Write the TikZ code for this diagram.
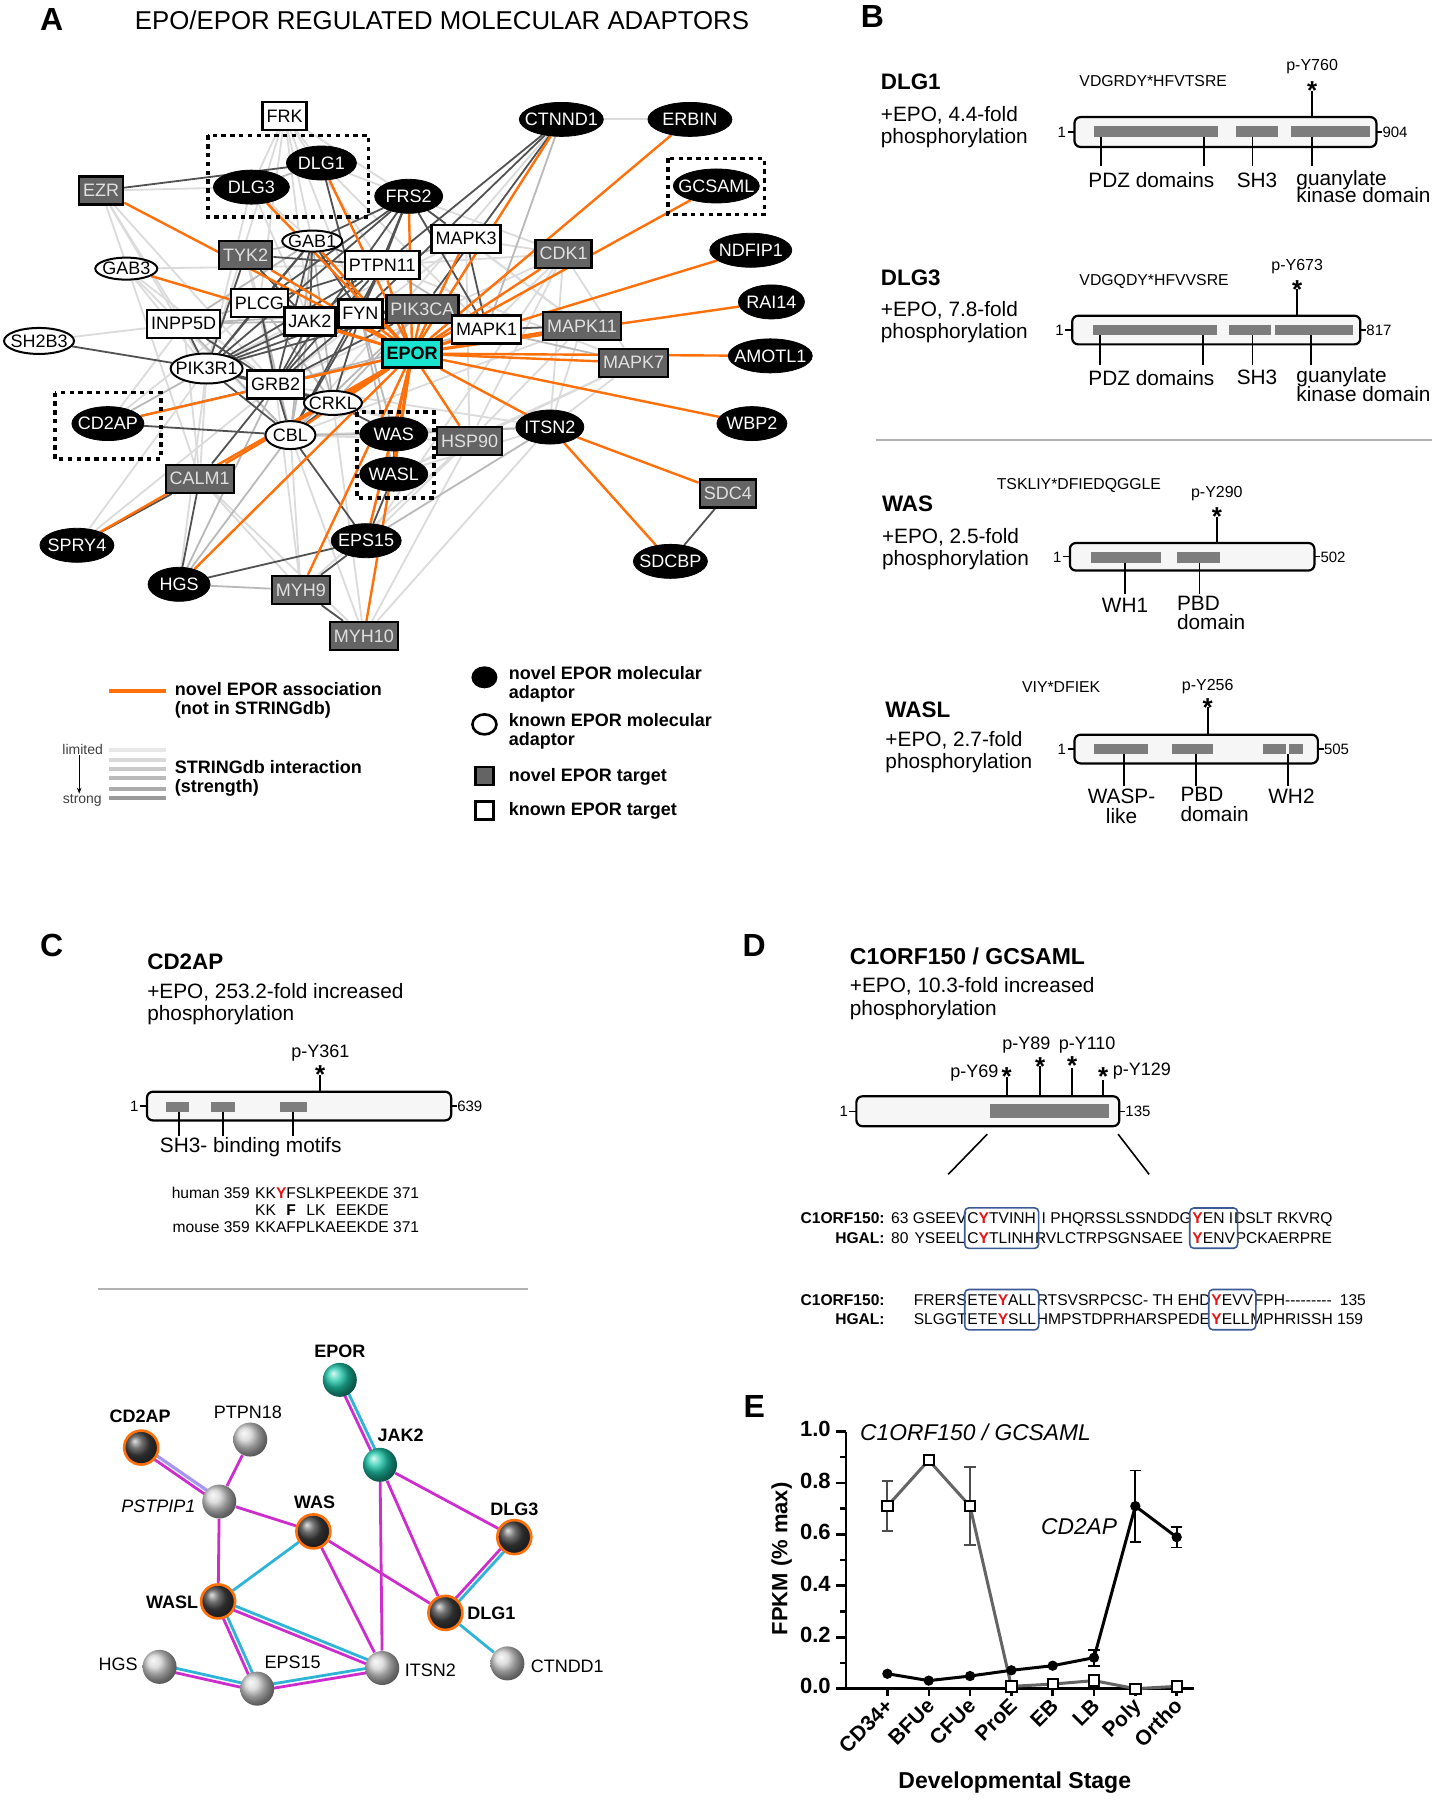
\documentclass[tikz,border=0pt]{standalone}
\usepackage{fontspec}
\setmainfont{Liberation Sans}
\usetikzlibrary{calc,arrows.meta,shapes.geometric}
\pgfdeclarelayer{back}
\pgfdeclarelayer{bg}
\pgfsetlayers{back,bg,main}
\definecolor{org}{RGB}{255,112,10}
\definecolor{epocyan}{RGB}{25,228,208}
\definecolor{tgray}{RGB}{100,100,100}
\definecolor{domc}{RGB}{125,125,125}
\definecolor{mag}{RGB}{205,45,205}
\definecolor{cya}{RGB}{45,180,215}
\definecolor{lav}{RGB}{165,150,240}
\definecolor{ballteal}{RGB}{30,200,170}
\definecolor{boxblue}{RGB}{60,90,150}
\definecolor{seqred}{RGB}{230,20,20}
\newcommand\fs[2]{\fontsize{#1}{#2}\selectfont}
\newcommand\R[1]{\textcolor{seqred}{\textbf{#1}}}
\newcommand\adnode[6]{%
 \node[#1,minimum width=#6pt] (#2) at (#3,#4) {\makebox[0pt]{#5}};}
\newcommand\protbox[6]{%
 \draw[pbox] (#1,#2) rectangle (#3,#4);
 \node[num,anchor=mid east] (#6l) at ({#1-7},{(#2+#4)/2}) {1};
 \draw[line width=0.6pt] ({#1-6},{(#2+#4)/2}) -- (#1,{(#2+#4)/2});
 \draw[line width=0.6pt] (#3,{(#2+#4)/2}) -- ({#3+5},{(#2+#4)/2});
 \node[num,anchor=mid west] (#6r) at ({#3+5},{(#2+#4)/2}) {#5};}
\newcommand\dbl[2]{%
 \draw[cya,line width=1.4pt] ($(#1)!1.1pt!90:(#2)$) -- ($(#2)!1.1pt!-90:(#1)$);
 \draw[mag,line width=1.4pt] ($(#1)!1.1pt!-90:(#2)$) -- ($(#2)!1.1pt!90:(#1)$);}
\begin{document}
\begin{tikzpicture}[x=0.574pt,y=-0.574pt,
 adn/.style={ellipse,fill=black,draw=black,text=white,inner sep=0pt,minimum height=17pt,font=\fs{9}{11}},
 adk/.style={ellipse,fill=white,draw=black,line width=1pt,text=black,inner sep=0pt,minimum height=13pt,font=\fs{9}{11}},
 tgn/.style={rectangle,fill=tgray,draw=black,line width=1.2pt,text=white!88!black,inner xsep=2pt,inner ysep=0pt,minimum height=14pt,font=\fs{9}{11}},
 tgk/.style={rectangle,fill=white,draw=black,line width=1.2pt,text=black,inner xsep=2pt,inner ysep=0pt,minimum height=14pt,font=\fs{9}{11}},
 gl/.style={gray!28,line width=0.9pt},
 gm/.style={gray!55,line width=0.9pt},
 gd/.style={black!68,line width=0.9pt},
 ol/.style={org,line width=1.2pt},
 dotbox/.style={line width=1.8pt,dash pattern=on 2.2pt off 2.2pt},
 pbox/.style={draw=black,fill=gray!7,line width=1.1pt,rounded corners=3pt},
 ltr/.style={font=\fs{16}{18}\bfseries,inner sep=0pt},
 pname/.style={font=\fs{11.2}{13}\bfseries,anchor=mid west,inner sep=0pt},
 pdesc/.style={font=\fs{10.4}{12},anchor=mid west,inner sep=0pt},
 seqs/.style={font=\fs{7.9}{9},anchor=mid west,inner sep=0pt},
 py/.style={font=\fs{8}{9},inner sep=0pt},
 dlab/.style={font=\fs{10.4}{12},inner sep=0pt},
 num/.style={font=\fs{7.5}{9},inner sep=0pt},
 star/.style={font=\fs{13}{13}\bfseries,inner sep=0pt},
 leg/.style={font=\fs{9}{10.5}\bfseries,inner sep=0pt,anchor=mid west},
 al/.style={font=\fs{7.8}{9},inner sep=0pt},
 sq/.style={font=\fs{7.8}{9},inner sep=0pt,anchor=base west},
 sqb/.style={font=\fs{7.8}{9}\bfseries,inner sep=0pt,anchor=base east},
 bteal/.style={circle,inner sep=0pt,minimum size=17pt,shading=ball,ball color=ballteal},
 bdark/.style={circle,inner sep=0pt,minimum size=17pt,shading=ball,ball color=black!75,draw=org,line width=1.3pt},
 blight/.style={circle,inner sep=0pt,minimum size=17pt,shading=ball,ball color=gray!35},
 nl/.style={font=\fs{9}{11}\bfseries,inner sep=0pt},
 nlr/.style={font=\fs{9}{11},inner sep=0pt},
 ax/.style={font=\fs{11}{12}\bfseries,inner sep=0pt},
 axs/.style={font=\fs{10.5}{12}\bfseries,inner sep=0pt}
]
\useasboundingbox (0,0) rectangle (1249,1568);
\begin{pgfonlayer}{back}
\fill[white] (0,0) rectangle (1249,1568);
\end{pgfonlayer}

% ================= Panel A =================
\node[ltr] (la) at (45,17) {A};
\node[font=\fs{12.9}{14},inner sep=0pt] (tA) at (385,18) {EPO/EPOR REGULATED MOLECULAR ADAPTORS};

\node[tgk] (frk) at (248,101) {FRK};
\adnode{adn}{dlg1}{280}{142}{DLG1}{35}
\adnode{adn}{dlg3}{219}{163}{DLG3}{38}
\node[tgn] (ezr) at (88,166) {EZR};
\adnode{adn}{frs2}{356}{171}{FRS2}{34}
\adnode{adk,minimum height=10.5pt}{gab1}{272}{210}{GAB1}{30}
\node[tgn] (tyk2) at (214,222) {TYK2};
\node[tgk] (ptpn11) at (333,231) {PTPN11};
\node[tgk] (mapk3) at (406,208) {MAPK3};
\node[tgn] (cdk1) at (491,221) {CDK1};
\adnode{adk,minimum height=11pt}{gab3}{110}{234}{GAB3}{31}
\node[tgk] (plcg) at (226,264) {PLCG};
\node[tgk] (inpp5d) at (160,282) {INPP5D};
\node[tgk] (jak2) at (270,280) {JAK2};
\node[tgk] (fyn) at (314,273) {FYN};
\node[tgn] (pik3ca) at (368,269) {PIK3CA};
\adnode{adk}{sh2b3}{34}{297}{SH2B3}{35}
\node[tgk] (mapk1) at (424,287) {MAPK1};
\node[tgn] (mapk11) at (507,284) {MAPK11};
\node[tgk,fill=epocyan,font=\fs{9}{11}\bfseries] (epor) at (359,308) {EPOR};
\node[tgn] (mapk7) at (552,316) {MAPK7};
\adnode{adk,minimum height=15pt}{pik3r1}{180}{321}{PIK3R1}{36}
\node[tgk] (grb2) at (240,335) {GRB2};
\adnode{adk,minimum height=12pt}{crkl}{290}{351}{CRKL}{29}
\adnode{adn}{cd2ap}{94}{369}{CD2AP}{36}
\adnode{adk,minimum height=14pt}{cbl}{253}{379}{CBL}{25}
\adnode{adn}{was}{343}{378}{WAS}{34}
\adnode{adn}{wasl}{343}{413}{WASL}{34}
\node[tgn] (hsp90) at (409,384) {HSP90};
\adnode{adn}{itsn2}{479}{372}{ITSN2}{34}
\adnode{adn}{wbp2}{655}{369}{WBP2}{35}
\node[tgn] (calm1) at (174,417) {CALM1};
\node[tgn] (sdc4) at (634,430) {SDC4};
\adnode{adn}{spry4}{67}{475}{SPRY4}{37}
\adnode{adn}{eps15}{319}{471}{EPS15}{35}
\adnode{adn}{sdcbp}{584}{489}{SDCBP}{37}
\adnode{adn}{hgs}{156}{509}{HGS}{31}
\node[tgn] (myh9) at (262,514) {MYH9};
\node[tgn] (myh10) at (317,554) {MYH10};
\adnode{adn}{ctnnd1}{489}{104}{CTNND1}{42}
\adnode{adn}{erbin}{601}{104}{ERBIN}{42}
\adnode{adn}{gcsaml}{624}{162}{GCSAML}{43}
\adnode{adn}{ndfip1}{654}{218}{NDFIP1}{41}
\adnode{adn}{rai14}{672}{263}{RAI14}{33}
\adnode{adn}{amotl1}{671}{310}{AMOTL1}{42}

\draw[dotbox] (181,118) rectangle (321,189);
\draw[dotbox] (48,342) rectangle (140,400);
\draw[dotbox] (311,359) rectangle (378,434);
\draw[dotbox] (582,138) rectangle (666,187);

\begin{pgfonlayer}{bg}
\foreach \a/\b in {frk/dlg1,frk/dlg3,frk/gab1,frk/plcg,frk/jak2,frk/fyn,frk/ptpn11,frk/pik3r1,frk/frs2,
 ezr/dlg3,ezr/inpp5d,ezr/pik3r1,ezr/grb2,ezr/calm1,dlg3/gab1,dlg3/pik3r1,dlg1/frs2,dlg1/mapk1,dlg3/jak2,
 gab3/ptpn11,gab3/grb2,gab3/pik3r1,gab3/cbl,sh2b3/inpp5d,ctnnd1/erbin,ctnnd1/cbl,
 cdk1/mapk3,cdk1/mapk1,cdk1/hsp90,cdk1/itsn2,cdk1/mapk7,cdk1/eps15,cdk1/grb2,
 mapk11/hsp90,mapk11/mapk3,mapk11/itsn2,mapk11/cbl,mapk7/hsp90,mapk7/itsn2,mapk7/wasl,
 hsp90/eps15,hsp90/wasl,hsp90/myh9,hsp90/myh10,hsp90/cbl,hsp90/grb2,hsp90/pik3r1,
 itsn2/wasl,itsn2/myh10,itsn2/cbl,itsn2/grb2,myh10/cbl,myh10/crkl,myh9/cbl,myh9/grb2,myh9/calm1,myh10/calm1,
 hgs/pik3r1,cd2ap/plcg,cd2ap/inpp5d,spry4/grb2,spry4/pik3r1,calm1/pik3r1,calm1/inpp5d,
 tyk2/plcg,tyk2/grb2,tyk2/cbl,frs2/mapk11,frs2/cdk1,mapk3/hsp90,mapk3/grb2,mapk3/pik3r1,ptpn11/mapk7,ptpn11/cdk1}
 \draw[gl] (\a) -- (\b);
\foreach \a/\b in {dlg1/dlg3,gab1/inpp5d,gab1/tyk2,gab1/cbl,gab1/crkl,plcg/inpp5d,plcg/cbl,plcg/crkl,
 ptpn11/mapk1,ptpn11/mapk3,ctnnd1/mapk1,mapk1/mapk7,mapk1/grb2,cbl/was,grb2/hgs,cd2ap/pik3r1,cbl/hgs,
 fyn/was,fyn/wasl,pik3ca/crkl,pik3ca/cbl,inpp5d/cbl,inpp5d/jak2,inpp5d/fyn,jak2/cbl,jak2/crkl,
 eps15/was,itsn2/was,eps15/itsn2,hgs/myh9}
 \draw[gm] (\a) -- (\b);
\foreach \a/\b in {ezr/dlg1,dlg1/fyn,frs2/gab1,frs2/ptpn11,frs2/grb2,frs2/plcg,frs2/mapk1,frs2/mapk3,frs2/pik3r1,frs2/fyn,
 ctnnd1/fyn,ctnnd1/ptpn11,ctnnd1/pik3ca,gab1/plcg,gab1/jak2,gab1/pik3r1,gab1/grb2,gab1/ptpn11,gab1/fyn,
 tyk2/jak2,tyk2/pik3r1,tyk2/ptpn11,ptpn11/jak2,ptpn11/grb2,ptpn11/pik3r1,ptpn11/plcg,ptpn11/fyn,ptpn11/cbl,
 plcg/jak2,plcg/grb2,plcg/pik3r1,plcg/fyn,inpp5d/grb2,inpp5d/pik3r1,jak2/grb2,jak2/pik3r1,jak2/fyn,jak2/pik3ca,
 fyn/grb2,fyn/pik3r1,fyn/cbl,fyn/crkl,fyn/pik3ca,pik3ca/pik3r1,pik3ca/grb2,mapk1/mapk3,mapk1/mapk11,
 pik3r1/grb2,pik3r1/cbl,pik3r1/crkl,pik3r1/sh2b3,grb2/crkl,grb2/cbl,grb2/calm1,cbl/cd2ap,cbl/crkl,cbl/eps15,
 calm1/hgs,calm1/spry4,eps15/hgs,eps15/myh9,eps15/wasl,myh9/myh10,was/wasl,sdc4/sdcbp,crkl/was,grb2/cd2ap}
 \draw[gd] (\a) -- (\b);
\foreach \a in {ezr,gab3,dlg3,dlg1,frs2,ctnnd1,erbin,gcsaml,ndfip1,rai14,amotl1,wbp2,itsn2,mapk7,mapk11,
 mapk1,cdk1,pik3ca,ptpn11,fyn,grb2,cd2ap,crkl,cbl,calm1,spry4,hgs,was,wasl,eps15,myh9,myh10,hsp90,tyk2,gab1,jak2,mapk3}
 \draw[ol] (epor) -- (\a);
\draw[ol] (itsn2) -- (sdc4);
\draw[ol] (itsn2) -- (sdcbp);
\end{pgfonlayer}

% legend A
\draw[org,line width=2pt] (95,602) -- (145,602);
\node[leg] (lg0a) at (152,601) {novel EPOR association};
\node[leg] (lg0b) at (152,618) {(not in STRINGdb)};
\foreach \y/\c in {653/18,662/30,670/42,678/54,687/66,695/80}
 \draw[gray!\c,line width=2pt] (95,\y) -- (145,\y);
\node[font=\fs{7}{8},text=black!75,inner sep=0pt,anchor=mid east] (lim) at (90,653) {limited};
\node[font=\fs{7}{8},text=black!75,inner sep=0pt,anchor=mid east] (stro) at (89,695) {strong};
\draw[-{Stealth[length=3pt]},line width=0.6pt] (lim.south -| 69,0) -- (stro.north -| 69,0);
\node[leg] (lg1a) at (152,669) {STRINGdb interaction};
\node[leg] (lg1b) at (152,686) {(strength)};
\node[ellipse,fill=black,minimum width=13pt,minimum height=11pt,inner sep=0pt] (lgs1) at (422,590) {};
\node[ellipse,draw=black,line width=1.3pt,fill=white,minimum width=12pt,minimum height=10pt,inner sep=0pt] (lgs2) at (422,631) {};
\node[rectangle,fill=tgray,draw=black,line width=1.3pt,minimum size=9pt,inner sep=0pt] (lgs3) at (422,676) {};
\node[rectangle,draw=black,line width=1.3pt,fill=white,minimum size=9pt,inner sep=0pt] (lgs4) at (422,706) {};
\node[leg] (lt1) at (443,587) {novel EPOR molecular};
\node[leg] (lt2) at (443,604) {adaptor};
\node[leg] (lt3) at (443,628) {known EPOR molecular};
\node[leg] (lt4) at (443,645) {adaptor};
\node[leg] (lt5) at (443,676) {novel EPOR target};
\node[leg] (lt6) at (443,706) {known EPOR target};

% ================= Panel B =================
\node[ltr] (lb) at (760,14) {B};
\node[pname] (bn1) at (767,73) {DLG1};
\node[pdesc] (bd1a) at (767,101) {+EPO, 4.4-fold};
\node[pdesc] (bd1b) at (767,120) {phosphorylation};
\node[seqs] (bs1) at (940,71) {VDGRDY*HFVTSRE};
\node[py] (bp1) at (1143,58) {p-Y760};
\node[star] (bst1) at (1143,79) {*};
\draw[line width=1pt] (1143,79) -- (1143,102);
\protbox{936}{102}{1199}{128}{904}{pA}
\fill[domc] (953,110) rectangle (1061,119);
\fill[domc] (1077,110) rectangle (1113,119);
\fill[domc] (1125,110) rectangle (1193,119);
\foreach \x in {959,1049,1091,1143} \draw[line width=0.8pt] (\x,119) -- (\x,145);
\node[dlab] (bl1a) at (1003,157) {PDZ domains};
\node[dlab] (bl1b) at (1095,157) {SH3};
\node[dlab,anchor=mid west] (bl1c) at (1129,157) {guanylate};
\node[dlab,anchor=mid west] (bl1d) at (1129,172) {kinase domain};
\node[pname] (bn3) at (767,244) {DLG3};
\node[pdesc] (bd3a) at (767,271) {+EPO, 7.8-fold};
\node[pdesc] (bd3b) at (767,290) {phosphorylation};
\node[seqs] (bs3) at (940,244) {VDGQDY*HFVVSRE};
\node[py] (bp3) at (1130,232) {p-Y673};
\node[star] (bst3) at (1130,252) {*};
\draw[line width=1pt] (1130,252) -- (1130,275);
\protbox{934}{275}{1185}{300}{817}{pB}
\fill[domc] (952,283) rectangle (1060,292);
\fill[domc] (1071,283) rectangle (1107,292);
\fill[domc] (1111,283) rectangle (1179,292);
\foreach \x in {958,1048,1091,1142} \draw[line width=0.8pt] (\x,292) -- (\x,318);
\node[dlab] (bl3a) at (1003,329) {PDZ domains};
\node[dlab] (bl3b) at (1095,329) {SH3};
\node[dlab,anchor=mid west] (bl3c) at (1129,329) {guanylate};
\node[dlab,anchor=mid west] (bl3d) at (1129,345) {kinase domain};
\draw[gray!60,line width=1pt] (763,383) -- (1247,383);
\node[seqs] (bsw) at (868,422) {TSKLIY*DFIEDQGGLE};
\node[pname] (bnw) at (768,441) {WAS};
\node[pdesc] (bdwa) at (768,469) {+EPO, 2.5-fold};
\node[pdesc] (bdwb) at (768,488) {phosphorylation};
\node[py] (bpw) at (1060,430) {p-Y290};
\node[star] (bstw) at (1060,450) {*};
\draw[line width=1pt] (1060,450) -- (1060,473);
\protbox{932}{473}{1145}{497}{502}{pC}
\fill[domc] (950,481) rectangle (1011,490);
\fill[domc] (1025,481) rectangle (1063,490);
\foreach \x in {980,1045} \draw[line width=0.8pt] (\x,490) -- (\x,517);
\node[dlab] (blwa) at (980,527) {WH1};
\node[dlab,anchor=mid west] (blwb) at (1025,527) {PBD};
\node[dlab,anchor=mid west] (blwc) at (1025,544) {domain};
\node[seqs] (bsl) at (890,599) {VIY*DFIEK};
\node[pname] (bnl) at (771,620) {WASL};
\node[pdesc] (bdla) at (771,646) {+EPO, 2.7-fold};
\node[pdesc] (bdlb) at (771,665) {phosphorylation};
\node[py] (bpl) at (1052,598) {p-Y256};
\node[star] (bstl) at (1052,616) {*};
\draw[line width=1pt] (1052,616) -- (1052,640);
\protbox{936}{640}{1148}{665}{505}{pD}
\fill[domc] (953,648) rectangle (1000,657);
\fill[domc] (1021,648) rectangle (1057,657);
\fill[domc] (1100,648) rectangle (1120,657);
\fill[domc] (1123,648) rectangle (1135,657);
\foreach \x in {979,1042,1122} \draw[line width=0.8pt] (\x,657) -- (\x,685);
\node[dlab] (blla) at (977,694) {WASP-};
\node[dlab] (bllb) at (977,711) {like};
\node[dlab,anchor=mid west] (bllc) at (1028,694) {PBD};
\node[dlab,anchor=mid west] (blld) at (1028,711) {domain};
\node[dlab] (blle) at (1125,694) {WH2};

% ================= Panel C =================
\node[ltr] (lc) at (45,824) {C};
\node[pname] (cn) at (128,840) {CD2AP};
\node[pdesc] (cda) at (128,865) {+EPO, 253.2-fold increased};
\node[pdesc] (cdb) at (128,884) {phosphorylation};
\node[font=\fs{9}{10},inner sep=0pt] (cpy) at (279,917) {p-Y361};
\node[star] (cst) at (279,936) {*};
\draw[line width=1pt] (279,936) -- (279,951);
\protbox{128}{951}{393}{976}{639}{pE}
\fill[domc] (145,960) rectangle (165,969);
\fill[domc] (184,960) rectangle (205,969);
\fill[domc] (244,960) rectangle (267,969);
\foreach \x in {156,194,255} \draw[line width=0.8pt] (\x,969) -- (\x,990);
\node[dlab,anchor=mid west] (cmot) at (139,999) {SH3- binding motifs};
\node[al,anchor=base east] (hum) at (218,1044) {human 359};
\node[al,anchor=base west] (hseq) at (222,1044) {KK\R{Y}FSLKPEEKDE 371};
\node[al,anchor=base west] (cseq) at (222,1059) {KK\phantom{\textbf{Y}}\rlap{\textbf{F}}\phantom{F}\phantom{S}LK\phantom{P}EEKDE};
\node[al,anchor=base east] (mou) at (218,1074) {mouse 359};
\node[al,anchor=base west] (mseq) at (222,1074) {KKAFPLKAEEKDE 371};
\draw[gray!60,line width=1pt] (85,1123) -- (460,1123);

\node[bteal] (nepor) at (296,1202) {};
\node[bteal] (njak2) at (331,1276) {};
\node[bdark] (ncd2ap) at (123,1261) {};
\node[blight] (nptpn18) at (218,1254) {};
\node[blight] (npstpip1) at (191,1308) {};
\node[bdark] (nwas) at (273,1334) {};
\node[bdark] (ndlg3) at (448,1339) {};
\node[bdark] (nwasl) at (190,1395) {};
\node[bdark] (ndlg1) at (388,1405) {};
\node[blight] (nhgs) at (139,1452) {};
\node[blight] (neps15) at (224,1471) {};
\node[blight] (nitsn2) at (333,1453) {};
\node[blight] (nctndd1) at (442,1449) {};
\begin{pgfonlayer}{bg}
\dbl{nepor}{njak2}
\draw[lav,line width=1.6pt] ($(ncd2ap)!1.1pt!90:(npstpip1)$) -- ($(npstpip1)!1.1pt!-90:(ncd2ap)$);
\draw[mag,line width=1.4pt] ($(ncd2ap)!1.1pt!-90:(npstpip1)$) -- ($(npstpip1)!1.1pt!90:(ncd2ap)$);
\foreach \a/\b in {nptpn18/npstpip1,npstpip1/nwas,npstpip1/nwasl,njak2/ndlg3,njak2/ndlg1,njak2/nitsn2,nwas/ndlg1,nwas/nitsn2}
 \draw[mag,line width=1.4pt] (\a) -- (\b);
\foreach \a/\b in {nwas/nwasl,ndlg1/nctndd1}
 \draw[cya,line width=1.4pt] (\a) -- (\b);
\dbl{ndlg3}{ndlg1}
\dbl{nwasl}{nitsn2}
\dbl{nwasl}{neps15}
\dbl{nhgs}{neps15}
\dbl{neps15}{nitsn2}
\end{pgfonlayer}
\node[nl] (tnepor) at (296,1177) {EPOR};
\node[nl] (tnjak2) at (349,1250) {JAK2};
\node[nl] (tncd2ap) at (122,1234) {CD2AP};
\node[nlr] (tnptpn18) at (216,1230) {PTPN18};
\node[nlr,font=\fs{9}{11}\itshape] (tnpstpip1) at (138,1312) {PSTPIP1};
\node[nl] (tnwas) at (274,1309) {WAS};
\node[nl] (tndlg3) at (448,1315) {DLG3};
\node[nl] (tnwasl) at (150,1396) {WASL};
\node[nl] (tndlg1) at (428,1405) {DLG1};
\node[nlr] (tnhgs) at (103,1450) {HGS};
\node[nlr] (tneps15) at (255,1448) {EPS15};
\node[nlr] (tnitsn2) at (375,1455) {ITSN2};
\node[nlr,anchor=mid west] (tnctndd1) at (462,1452) {CTNDD1};

% ================= Panel D =================
\node[ltr] (ld) at (657,824) {D};
\node[font=\fs{11.5}{13}\bfseries,anchor=mid west,inner sep=0pt] (dn) at (740,836) {C1ORF150 / GCSAML};
\node[pdesc] (dda) at (740,860) {+EPO, 10.3-fold increased};
\node[pdesc] (ddb) at (740,880) {phosphorylation};
\protbox{746}{955}{975}{981}{135}{pF}
\fill[domc] (862,962) rectangle (966,974);
\draw[line width=1pt] (877,955) -- (877,938);
\draw[line width=1pt] (906,955) -- (906,929);
\draw[line width=1pt] (934,955) -- (934,930);
\draw[line width=1pt] (961,955) -- (961,941);
\node[star] (dst1) at (877,938) {*};
\node[star] (dst2) at (906,929) {*};
\node[star] (dst3) at (934,928) {*};
\node[star] (dst4) at (961,938) {*};
\node[font=\fs{9}{10},inner sep=0pt,anchor=mid east] (dy1) at (870,934) {p-Y69};
\node[font=\fs{9}{10},inner sep=0pt] (dy2) at (894,910) {p-Y89};
\node[font=\fs{9}{10},inner sep=0pt] (dy3) at (947,910) {p-Y110};
\node[font=\fs{9}{10},inner sep=0pt,anchor=mid west] (dy4) at (969,932) {p-Y129};
\draw[line width=0.8pt] (860,988) -- (826,1023);
\draw[line width=0.8pt] (974,988) -- (1001,1023);
\coordinate (y3) at (0,1137);
\coordinate (y4) at (0,1154);
\node[sqb] (l1) at (771,1066) {C1ORF150:};
\node[sq] (r1a) at (776,1066) {63 GSEEV};
\node[sq] (r1b) at (r1a.base east) {C\R{Y}TVINH};
\node[sq] (r1c) at (r1b.base east) {\hspace{2.5pt}I PHQRSSLSSNDDG};
\node[sq] (r1d) at (r1c.base east) {\R{Y}EN I};
\node[sq] (r1e) at (r1d.base east) {DSLT RKVRQ};
\node[sqb] (l2) at (771,1083) {HGAL:};
\node[sq] (r2a) at (776,1083) {80\hspace{3pt}YSEEL};
\node[sq] (r2b) at (r1b.base west |- r2a.base) {C\R{Y}TLINH};
\node[sq] (r2c) at (r2b.base east) {RVLCTRPSGNSAEE};
\node[sq] (r2d) at (r1d.base west |- r2a.base) {\R{Y}ENV};
\node[sq] (r2e) at (r2d.base east) {PCKAERPRE};
\node[sqb] (l3) at (771,1137) {C1ORF150:};
\node[sq] (r3b) at (r1b.base west |- y3) {ETE\R{Y}ALL};
\node[sq,anchor=base east] (r3a) at (r3b.base west) {FRERS};
\node[sq] (r3c) at (r3b.base east) {RTSVSRPCSC- TH EHD};
\node[sq] (r3d) at (r3c.base east) {\R{Y}EVV};
\node[sq] (r3e) at (r3d.base east) {FPH-{}-{}-{}-{}-{}-{}-{}-{}-\hspace{4pt}135};
\node[sqb] (l4) at (771,1154) {HGAL:};
\node[sq] (r4b) at (r1b.base west |- y4) {ETE\R{Y}SLL};
\node[sq,anchor=base east] (r4a) at (r4b.base west) {SLGGT};
\node[sq] (r4c) at (r4b.base east) {HMPSTDPRHARSPEDE};
\node[sq] (r4d) at (r3d.base west |- y4) {\R{Y}ELL};
\node[sq] (r4e) at (r4d.base east) {MPHRISSH 159};
\tikzset{bb/.style={boxblue,line width=0.8pt,rounded corners=2pt}}
\draw[bb] ($(r1b.north west)+(-2,-4)$) rectangle ($(r1b.east |- r2b.south)+(2,4)$);
\draw[bb] ($(r1d.north west)+(-2,-4)$) rectangle ($(r2d.east |- r2d.south)+(2,4)$);
\draw[bb] ($(r3b.north west)+(-2,-4)$) rectangle ($(r3b.east |- r4b.south)+(2,4)$);
\draw[bb] ($(r3d.north west)+(-2,-4)$) rectangle ($(r3d.east |- r4d.south)+(2,4)$);

% ================= Panel E =================
\node[ltr] (le) at (657,1225) {E};
\draw[line width=1.4pt] (737,1247) -- (737,1471) -- (1040,1471);
\foreach \v/\l in {0/0.0,0.2/0.2,0.4/0.4,0.6/0.6,0.8/0.8,1/1.0} {
 \draw[line width=1.4pt] (728,{1471-224*\v}) -- (737,{1471-224*\v});
 \node[ax,anchor=mid east] at (724,{1471-224*\v}) {\l};
}
\foreach \v in {0.1,0.3,0.5,0.7,0.9}
 \draw[line width=1.2pt] (732,{1471-224*\v}) -- (737,{1471-224*\v});
\foreach \x/\l in {773/CD34+,809/BFUe,845/CFUe,881/ProE,917/EB,953/LB,989/Poly,1025/Ortho} {
 \draw[line width=1.2pt] (\x,1471) -- (\x,1477);
 \node[axs,rotate=45,anchor=mid east] at (\x+3,1484) {\l};
}
\node[ax,rotate=90] (ylab) at (681,1358) {FPKM (\% max)};
\node[font=\fs{11.5}{13}\bfseries,inner sep=0pt] (xlab) at (884,1553) {Developmental Stage};
\node[font=\fs{11.4}{13}\itshape,inner sep=0pt,anchor=mid west] (gct) at (749,1250) {C1ORF150 / GCSAML};
\node[font=\fs{11.4}{13}\itshape,inner sep=0pt] (cdt) at (940,1330) {CD2AP};
\foreach \x/\a/\b in {773/1334/1290,845/1346/1278} {
 \draw[black!70,line width=0.9pt] (\x,\a) -- (\x,\b);
 \draw[black!70,line width=0.9pt] (\x-5,\a) -- (\x+5,\a);
 \draw[black!70,line width=0.9pt] (\x-5,\b) -- (\x+5,\b);
}
\foreach \x/\a/\b in {953/1451/1437,989/1343/1281,1025/1348/1330} {
 \draw[black,line width=0.9pt] (\x,\a) -- (\x,\b);
 \draw[black,line width=0.9pt] (\x-5,\a) -- (\x+5,\a);
 \draw[black,line width=0.9pt] (\x-5,\b) -- (\x+5,\b);
}
\draw[tgray,line width=1.5pt] (773,1312) -- (809,1272) -- (845,1312) -- (881,1469) -- (917,1467) -- (953,1464) -- (989,1471) -- (1025,1469);
\draw[black,line width=1.5pt] (773,1458) -- (809,1464) -- (845,1460) -- (881,1455) -- (917,1451) -- (953,1444) -- (989,1312) -- (1025,1339);
\foreach \x/\y in {773/1458,809/1464,845/1460,881/1455,917/1451,953/1444,989/1312,1025/1339}
 \fill[black] (\x,\y) circle (4.5);
\foreach \x/\y in {773/1312,809/1272,845/1312,881/1469,917/1467,953/1464,989/1471,1025/1469}
 \draw[black,fill=white,line width=1pt] (\x-4.5,\y-4.5) rectangle (\x+4.5,\y+4.5);
\end{tikzpicture}
\end{document}
